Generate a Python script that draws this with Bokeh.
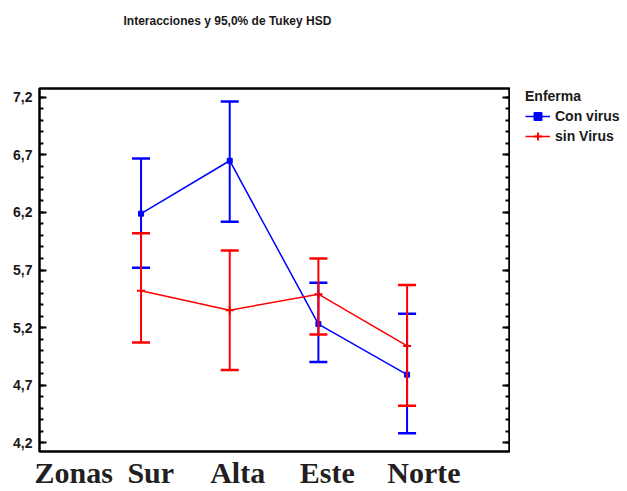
from bokeh.plotting import figure
from bokeh.layouts import row
from bokeh.models import (Range1d, LinearAxis, FixedTicker, CustomJSTickFormatter,
                          ColumnDataSource, Whisker, TeeHead, Legend, LegendItem, Title)
from bokeh.embed import file_html
from bokeh.resources import INLINE

# ---- data ----
zonas = ["Sur", "Alta", "Este", "Norte"]
x_pos = [1, 2, 3, 4]
con_mean = [6.19, 6.65, 5.23, 4.79]
con_upper = [6.67, 7.165, 5.59, 5.32]
con_lower = [5.72, 6.12, 4.90, 4.28]
sin_mean = [5.52, 5.35, 5.49, 5.04]
sin_upper = [6.02, 5.87, 5.80, 5.57]
sin_lower = [5.07, 4.83, 5.14, 4.52]
series_names = ["Con virus", "sin Virus"]
y_ticks = [4.2, 4.7, 5.2, 5.7, 6.2, 6.7, 7.2]
y_minor = [round(4.2 + 0.1 * i, 1) for i in range(31)]
x_label_text = ["Zonas", "Sur", "Alta", "Este", "Norte"]
x_label_pos = [0.24, 1.11, 2.09, 3.10, 4.19]

SANS = "Liberation Sans"
TXT = "#1a1a1a"

p = figure(width=510, height=491, output_backend="svg", toolbar_location=None,
           x_range=Range1d(-0.145, 5.155), y_range=Range1d(4.122, 7.278),
           x_axis_location=None, y_axis_location=None, title=None,
           min_border_left=39, min_border_right=1, min_border_top=86, min_border_bottom=0)
p.grid.visible = False
p.outline_line_color = "black"
p.outline_line_width = 2.5
p.background_fill_color = "white"
p.border_fill_color = "white"

# spacer (closest to frame) then the real title above it
p.add_layout(Title(text=" ", standoff=44, text_font_size="1px"), "above")
p.add_layout(Title(text="Interacciones y 95,0% de Tukey HSD", align="left", offset=84,
                   vertical_align="top", standoff=24, text_font=SANS,
                   text_font_size="12px", text_font_style="bold", text_color=TXT), "above")

yfmt = CustomJSTickFormatter(code="return tick.toFixed(1).replace('.', ',');")
left = LinearAxis(ticker=FixedTicker(ticks=y_ticks, minor_ticks=y_minor), formatter=yfmt,
                  major_tick_in=7, major_tick_out=0, minor_tick_in=4, minor_tick_out=0,
                  major_tick_line_width=2, minor_tick_line_width=2,
                  axis_line_color=None, major_label_standoff=7,
                  major_label_text_font=SANS, major_label_text_font_size="14px",
                  major_label_text_font_style="bold", major_label_text_color=TXT)
p.add_layout(left, "left")

right = LinearAxis(ticker=FixedTicker(ticks=y_ticks, minor_ticks=y_minor),
                   formatter=CustomJSTickFormatter(code="return '';"),
                   major_tick_in=7, major_tick_out=0, minor_tick_in=4, minor_tick_out=0,
                   major_tick_line_width=2, minor_tick_line_width=2,
                   axis_line_color=None, major_label_standoff=0)
p.add_layout(right, "right")

below = LinearAxis(ticker=FixedTicker(ticks=x_label_pos, minor_ticks=[]),
                   formatter=CustomJSTickFormatter(args=dict(labels=x_label_text),
                                                   code="return labels[index];"),
                   major_tick_in=0, major_tick_out=0, major_tick_line_color=None,
                   minor_tick_line_color=None, axis_line_color=None,
                   major_label_standoff=4, major_label_text_font="Liberation Serif",
                   major_label_text_font_size="30px", major_label_text_font_style="bold",
                   major_label_text_color="#231f20")
p.add_layout(below, "below")

src_con = ColumnDataSource(dict(x=x_pos, mean=con_mean, upper=con_upper, lower=con_lower, zona=zonas))
src_sin = ColumnDataSource(dict(x=x_pos, mean=sin_mean, upper=sin_upper, lower=sin_lower, zona=zonas))

for src, col in ((src_con, "blue"), (src_sin, "red")):
    w = Whisker(source=src, base="x", upper="upper", lower="lower",
                line_color=col, line_width=2, level="glyph",
                upper_head=TeeHead(size=18, line_color=col, line_width=2.5),
                lower_head=TeeHead(size=18, line_color=col, line_width=2.5))
    p.add_layout(w)

p.line("x", "mean", source=src_con, line_color="blue", line_width=1.5)
p.scatter("x", "mean", source=src_con, marker="square", size=5,
          fill_color="blue", line_color="blue")
p.line("x", "mean", source=src_sin, line_color="red", line_width=1.5)
p.scatter("x", "mean", source=src_sin, marker="cross", size=8,
          line_color="red", line_width=2)

# ---- legend panel (separate figure to the right) ----
lg = figure(width=117, height=491, output_backend="svg", toolbar_location=None,
            x_range=Range1d(0, 1), y_range=Range1d(0, 1),
            x_axis_location=None, y_axis_location=None, title=None,
            min_border_left=15, min_border_right=0, min_border_top=88, min_border_bottom=40)
lg.grid.visible = False
lg.outline_line_color = None
lg.background_fill_color = "white"
lg.border_fill_color = "white"
# legend-only renderers: their points sit outside the legend panel's visible range
off = dict(x=[-5, -4], y=[-5, -4])
ll1 = lg.line(x=off["x"], y=off["y"], line_color="blue", line_width=1.5)
ls1 = lg.scatter(x=off["x"], y=off["y"], marker="square", size=5, fill_color="blue", line_color="blue")
ll2 = lg.line(x=off["x"], y=off["y"], line_color="red", line_width=1.5)
ls2 = lg.scatter(x=off["x"], y=off["y"], marker="cross", size=8, line_color="red", line_width=2)

legend = Legend(items=[LegendItem(label=series_names[0], renderers=[ll1, ls1]),
                       LegendItem(label=series_names[1], renderers=[ll2, ls2])],
                title="Enferma", location="top_left",
                title_text_font=SANS, title_text_font_size="14px",
                title_text_font_style="bold", title_text_color=TXT,
                label_text_font=SANS, label_text_font_size="14px",
                label_text_font_style="bold", label_text_color=TXT,
                border_line_color=None, background_fill_alpha=0,
                padding=5, margin=0, spacing=0, glyph_width=25, glyph_height=20,
                label_height=20, label_standoff=5, title_standoff=2)
lg.add_layout(legend, "center")

layout = row(p, lg, spacing=0)
open("out.html", "w").write(file_html(layout, INLINE))
